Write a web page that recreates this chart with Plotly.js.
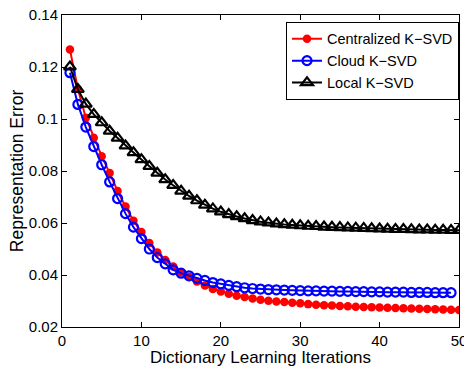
<!DOCTYPE html>
<html>
<head>
<meta charset="utf-8">
<script src="https://cdn.plot.ly/plotly-3.0.1.min.js"></script>
<style>html,body{margin:0;padding:0;background:#fff;}#chart{width:464px;height:367px;}</style>
</head>
<body>
<div id="chart"></div>
<script>
const seriesNames = ["Centralized K\u2212SVD", "Cloud K\u2212SVD", "Local K\u2212SVD"];

const centralized = [0.1267, 0.1115, 0.1005, 0.0928, 0.0857, 0.0792, 0.0723, 0.0663, 0.0609, 0.0565,
  0.0523, 0.0487, 0.0458, 0.0433, 0.0411, 0.0392, 0.0375, 0.0360, 0.0346, 0.0337,
  0.0328, 0.0320, 0.0315, 0.0310, 0.0305, 0.0301, 0.0298, 0.0296, 0.0293, 0.0291,
  0.0288, 0.0286, 0.0284, 0.0283, 0.0281, 0.0280, 0.0278, 0.0277, 0.0276, 0.0275,
  0.0274, 0.0273, 0.0272, 0.0271, 0.0270, 0.0269, 0.0268, 0.0267, 0.0266, 0.0265];

const cloud = [0.1178, 0.1056, 0.0969, 0.0894, 0.0824, 0.0758, 0.0694, 0.0636, 0.0584, 0.0540,
  0.0500, 0.0467, 0.0443, 0.0420, 0.0407, 0.0397, 0.0387, 0.0379, 0.0371, 0.0366,
  0.0360, 0.0355, 0.0351, 0.0348, 0.0346, 0.0344, 0.0343, 0.0342, 0.0341, 0.0340,
  0.0339, 0.0339, 0.0338, 0.0338, 0.0337, 0.0337, 0.0336, 0.0336, 0.0335, 0.0335,
  0.0334, 0.0334, 0.0334, 0.0333, 0.0333, 0.0333, 0.0332, 0.0332, 0.0332];

const local = [0.1201, 0.1114, 0.1058, 0.1018, 0.0986, 0.0954, 0.0927, 0.0897, 0.0871, 0.0844,
  0.0818, 0.0792, 0.0767, 0.0745, 0.0723, 0.0704, 0.0686, 0.0669, 0.0655, 0.0643,
  0.0633, 0.0625, 0.0617, 0.0610, 0.0605, 0.0601, 0.0597, 0.0594, 0.0592, 0.0590,
  0.0588, 0.0587, 0.0585, 0.0584, 0.0583, 0.0582, 0.0581, 0.0580, 0.0579, 0.0578,
  0.0577, 0.0576, 0.0576, 0.0575, 0.0574, 0.0574, 0.0573, 0.0573, 0.0572, 0.0572];

const xTicks = [0, 10, 20, 30, 40, 50];
const yTicks = [0.02, 0.04, 0.06, 0.08, 0.1, 0.12, 0.14];
const yTickText = ["0.02", "0.04", "0.06", "0.08", "0.1", "0.12", "0.14"];

const iters = n => Array.from({length: n}, (_, i) => i + 1);

const traces = [
  {x: iters(centralized.length), y: centralized, name: seriesNames[0], mode: "lines+markers",
   line: {color: "#ff0000", width: 2}, marker: {symbol: "circle", size: 8.5, color: "#ff0000"}},
  {x: iters(cloud.length), y: cloud, name: seriesNames[1], mode: "lines+markers",
   line: {color: "#0000ff", width: 2}, marker: {symbol: "circle-open", size: 9, color: "#0000ff", line: {width: 2.2, color: "#0000ff"}}},
  {x: iters(local.length), y: local, name: seriesNames[2], mode: "lines+markers",
   line: {color: "#000000", width: 2}, marker: {symbol: "triangle-up-open", size: 10.5, color: "#000000", line: {width: 2.2, color: "#000000"}}}
];

const font = "Liberation Sans, Arial, sans-serif";
const axisCommon = {
  showgrid: false, zeroline: false, showline: true, linecolor: "#000", linewidth: 1,
  mirror: "ticks", ticks: "inside", ticklen: 5, tickwidth: 1, tickcolor: "#000",
  ticklabeloverflow: "allow", automargin: false,
  tickfont: {family: font, size: 15, color: "#000"}
};

const layout = {
  width: 464, height: 367,
  margin: {l: 61.5, r: 5, t: 15, b: 40, autoexpand: false},
  paper_bgcolor: "#fff", plot_bgcolor: "#fff",
  font: {family: font, color: "#000"},
  showlegend: true,
  xaxis: Object.assign({}, axisCommon, {
    range: [0, 50], tickvals: xTicks, ticktext: xTicks.map(String),
    title: {text: "Dictionary Learning Iterations", font: {family: font, size: 17, color: "#000"}, standoff: 6}
  }),
  yaxis: Object.assign({}, axisCommon, {
    range: [0.02, 0.14], tickvals: yTicks, ticktext: yTickText,
    title: {text: "Representation Error", font: {family: font, size: 17.5, color: "#000"}, standoff: 0}
  }),
  legend: {
    x: 1.0, xanchor: "right", y: 0.978, yanchor: "top",
    bgcolor: "#fff", bordercolor: "#000", borderwidth: 1,
    font: {family: font, size: 14.5, color: "#000"},
    tracegroupgap: 0, itemwidth: 30
  }
};

Plotly.newPlot("chart", traces, layout, {displayModeBar: false, staticPlot: true});
</script>
</body>
</html>
